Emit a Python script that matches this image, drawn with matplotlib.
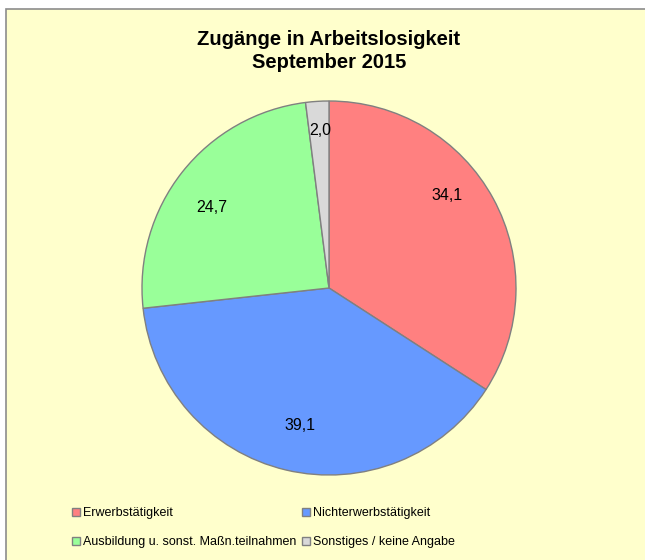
import numpy as np
import matplotlib
matplotlib.use("Agg")
import matplotlib.pyplot as plt
from matplotlib.patches import Rectangle

plt.rcParams['font.family'] = ['Liberation Sans', 'DejaVu Sans']

# Data
categories = ["Erwerbstätigkeit", "Nichterwerbstätigkeit",
              "Ausbildung u. sonst. Maßn.teilnahmen", "Sonstiges / keine Angabe"]
values = [34.1, 39.1, 24.7, 2.0]
colors = ["#FF8080", "#6699FF", "#99FF99", "#D9D9D9"]
title = "Zugänge in Arbeitslosigkeit\nSeptember 2015"

# label layout (radius, angle in degrees) as placed in the original
label_r = [0.80, 0.75, 0.76, 0.845]
label_ang = [38.2, -102.0, 145.3, 93.3]

W, H = 645, 560
fig = plt.figure(figsize=(W / 100, H / 100), dpi=100, facecolor="white")

# background box
bg = Rectangle((6 / W, -0.01), 1.0, 1 - 9 / H + 0.01, transform=fig.transFigure,
               facecolor="#FFFFCC", edgecolor="#8C8C8C", linewidth=1.2, zorder=-5)
fig.patches.append(bg)

cx, cy, R = 329, 288, 187
ax = fig.add_axes([(cx - R) / W, 1 - (cy + R) / H, 2 * R / W, 2 * R / H])
ax.set_zorder(2)
ax.set_facecolor("none")
wedges, _ = ax.pie(values, colors=colors, startangle=90, counterclock=False,
                   radius=1.0,
                   wedgeprops=dict(edgecolor="#808080", linewidth=1.0))
ax.set_xlim(-1, 1)
ax.set_ylim(-1, 1)
ax.set_aspect("equal")
ax.axis("off")

for v, r, a in zip(values, label_r, label_ang):
    t = np.deg2rad(a)
    ax.text(r * np.cos(t), r * np.sin(t), f"{v:.1f}".replace(".", ","),
            ha="center", va="center", fontsize=11.5, color="black")

fig.text(cx / W, 1 - 51 / H, title, ha="center", va="center",
         fontsize=14.5, fontweight="bold", linespacing=1.25)

order = [0, 2, 1, 3]
leg = fig.legend([wedges[i] for i in order], [categories[i] for i in order],
                 ncol=2, loc="upper left",
                 bbox_to_anchor=(72 / W, 1 - 507 / H),
                 frameon=False, fontsize=9, handlelength=0.6, handleheight=0.6,
                 handletextpad=0.25, columnspacing=0.5, labelspacing=1.4,
                 borderpad=0, borderaxespad=0)
leg.set_zorder(3)

fig.savefig("out.png", dpi=100, facecolor="white")
